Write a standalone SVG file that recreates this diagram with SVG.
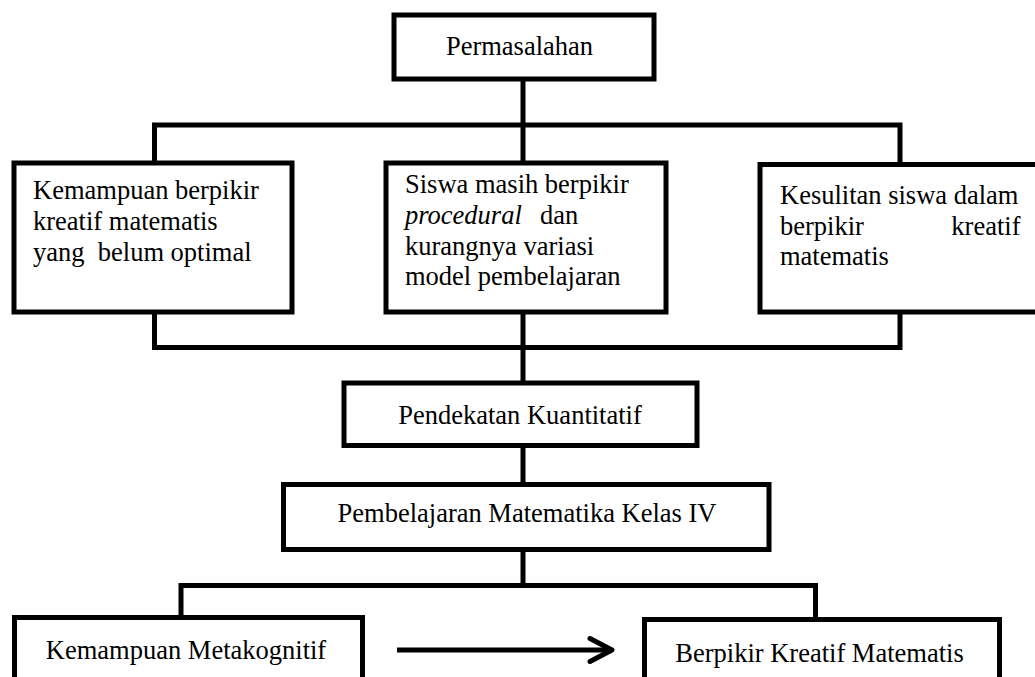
<svg xmlns="http://www.w3.org/2000/svg" width="1035" height="677" viewBox="0 0 1035 677">
<style>
.box{fill:#fff;stroke:#000;stroke-width:5}
.ln{fill:none;stroke:#000;stroke-width:5}
text{font-size:26.5px;fill:#000;white-space:pre}
.c{text-anchor:middle}
</style>
<rect width="1035" height="677" fill="#fff"/>
<g id="connectors">
<line class="ln" x1="523" y1="79" x2="523" y2="163"/>
<polyline class="ln" points="154.5,163 154.5,125 900,125 900,164"/>
<polyline class="ln" points="154.5,312 154.5,347.5 900,347.5 900,312"/>
<line class="ln" x1="523" y1="312" x2="523" y2="383"/>
<line class="ln" x1="523" y1="445.5" x2="523" y2="484.5"/>
<line class="ln" x1="523" y1="549.5" x2="523" y2="585.5"/>
<polyline class="ln" points="181,617.5 181,585.5 815.5,585.5 815.5,619.5"/>
<line class="ln" x1="397" y1="650" x2="611" y2="650"/>
<polyline class="ln" points="590,638.5 612,650 590,661.5" stroke-linecap="round" stroke-linejoin="round"/>
</g>
<g font-family="'Liberation Serif', 'Times New Roman', 'DejaVu Serif', serif">
<g id="n-permasalahan">
<rect class="box" x="394" y="15" width="260" height="64"/>
<text class="c" x="519.5" y="55">Permasalahan</text>
</g>
<g id="n-kemampuan">
<rect class="box" x="14" y="163" width="278" height="149"/>
<text x="33" y="199">Kemampuan berpikir</text>
<text x="33" y="230">kreatif matematis</text>
<text x="33" y="260.5">yang  belum optimal</text>
</g>
<g id="n-siswa">
<rect class="box" x="386" y="163" width="280" height="149"/>
<text x="405" y="193">Siswa masih berpikir</text>
<text x="405" y="223.5"><tspan font-style="italic">procedural</tspan><tspan x="540">dan</tspan></text>
<text x="405" y="254.5">kurangnya variasi</text>
<text x="405" y="285">model pembelajaran</text>
</g>
<g id="n-kesulitan">
<rect class="box" x="760" y="164.5" width="290" height="147.5"/>
<text x="780" y="204">Kesulitan siswa dalam</text>
<text x="780" y="235">berpikir</text>
<text x="1020.5" y="235" text-anchor="end">kreatif</text>
<text x="780" y="265">matematis</text>
</g>
<g id="n-pendekatan">
<rect class="box" x="344" y="383" width="353" height="62.5"/>
<text class="c" x="520" y="423.5">Pendekatan Kuantitatif</text>
</g>
<g id="n-pembelajaran">
<rect class="box" x="283.5" y="484.5" width="485.5" height="65"/>
<text class="c" x="527" y="521.5">Pembelajaran Matematika Kelas IV</text>
</g>
<g id="n-metakognitif">
<rect class="box" x="14.5" y="617.5" width="348" height="80"/>
<text class="c" x="186" y="658.5">Kemampuan Metakognitif</text>
</g>
<g id="n-berpikir">
<rect class="box" x="644.5" y="619.5" width="355" height="80"/>
<text class="c" x="819.5" y="661.5">Berpikir Kreatif Matematis</text>
</g>
</g>
</svg>
